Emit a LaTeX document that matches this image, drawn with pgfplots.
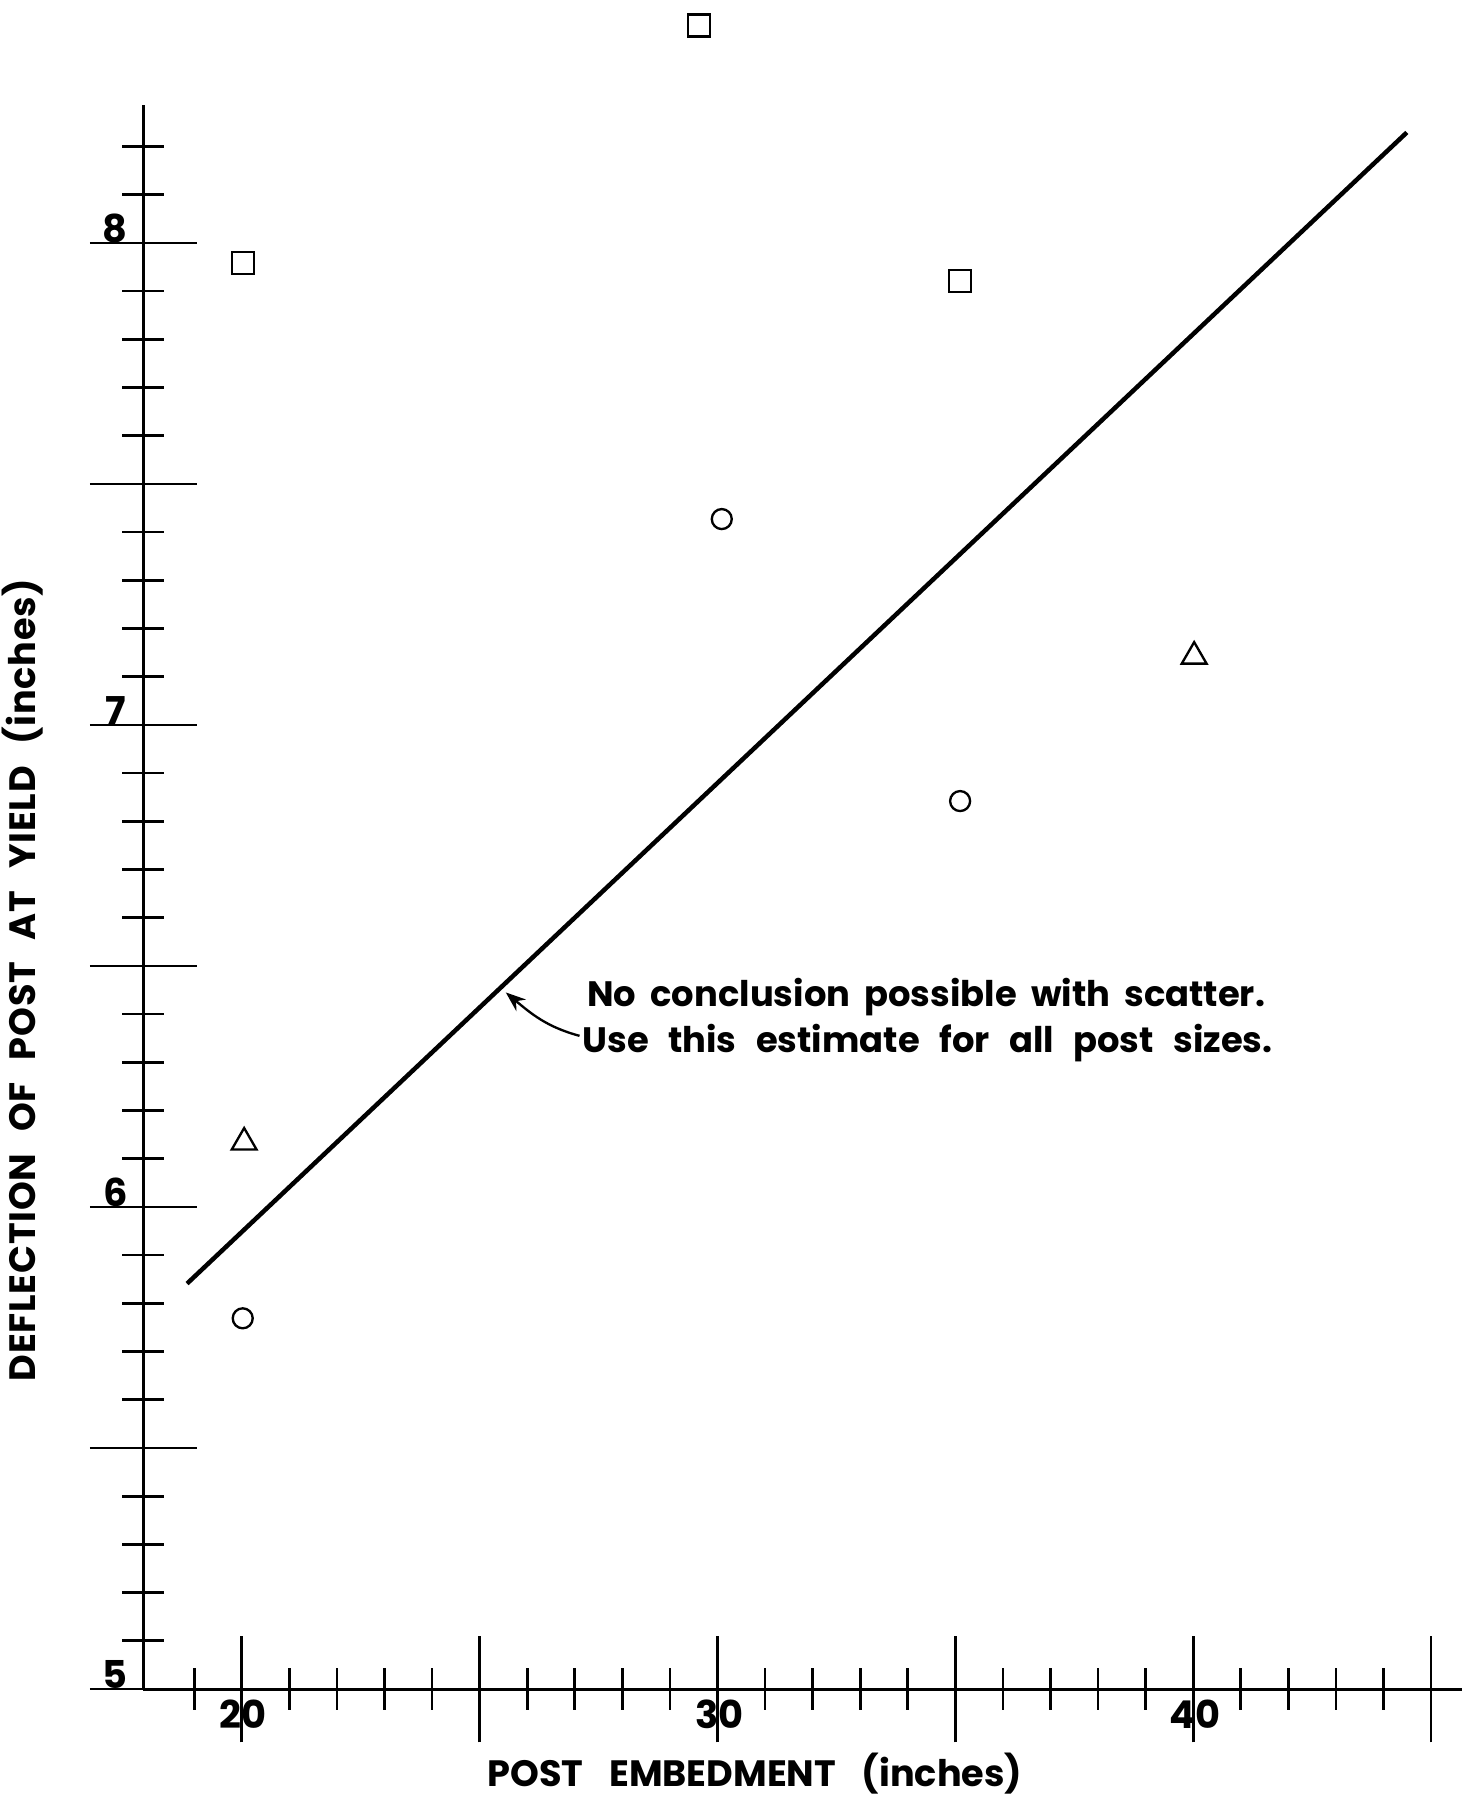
\documentclass[border=0pt]{standalone}
\usepackage{fontspec}
\setmainfont{Poppins}
\usepackage{pgfplots}
\pgfplotsset{compat=1.18}
\usetikzlibrary{arrows.meta}
\newfontfamily\lab{Poppins}[LetterSpace=0]
\newfontfamily\laby{Poppins}[LetterSpace=2]
\newfontfamily\note{Poppins}
\begin{document}
\begin{tikzpicture}
\useasboundingbox (-42.99pt,-32.1pt) rectangle (395.61pt,506.7pt);
\begin{axis}[
  scale only axis, width=395.61pt, height=475.2pt,
  at={(0pt,0pt)}, anchor=south west,
  xmin=17.93, xmax=45.65, ymin=5, ymax=8.286,
  enlargelimits=false, clip=false,
  axis lines=left, axis line style={-, line width=0.9pt},
  tick align=center, major tick length=32pt, minor tick length=12.5pt,
  tick style={black, line width=0.8pt},
  xtick={20,25,30,35,40,45}, xticklabels={20,,30,,40,},
  minor xtick={19,21,22,23,24,26,27,28,29,31,32,33,34,36,37,38,39,41,42,43,44},
  ytick={5,5.5,6,6.5,7,7.5,8}, yticklabels={5,,6,,7,,8},
  minor ytick={5.1,5.2,5.3,5.4,5.6,5.7,5.8,5.9,6.1,6.2,6.3,6.4,6.6,6.7,6.8,6.9,7.1,7.2,7.3,7.4,7.6,7.7,7.8,7.9,8.1,8.2},
  xticklabel style={font=\bfseries\fontsize{11.5}{11.5}\selectfont, anchor=center, xshift=0.5pt, yshift=8.4pt},
  yticklabel style={font=\bfseries\fontsize{11.5}{11.5}\selectfont, anchor=center, xshift=7.6pt, yshift=4.3pt},
  xlabel={\lab\bfseries POST\hspace{0.7em}EMBEDMENT\hspace{0.7em}(inches)},
  ylabel={\laby\bfseries DEFLECTION\hspace{0.6em}OF\hspace{0.6em}POST\hspace{0.6em}AT\hspace{0.6em}YIELD\hspace{0.6em}(inches)},
  xlabel style={font=\fontsize{11}{11}\selectfont, at={(axis description cs:0.4639,-0.0535)}, anchor=center},
  ylabel style={font=\fontsize{11}{11}\selectfont, at={(axis description cs:-0.0912,0.4477)}, anchor=center},
]
% fitted estimate line
\addplot[black, line width=1.35pt] coordinates {(18.85,5.841) (44.49,8.229)};
% squares
\addplot[only marks, mark=square, mark size=3.3pt, mark options={line width=0.7pt, black}] coordinates {(20.02,7.958) (29.61,8.451) (35.10,7.921)};
% circles
\addplot[only marks, mark=o, mark size=3pt, mark options={line width=0.7pt, black}] coordinates {(20.02,5.769) (30.09,7.427) (35.10,6.842)};
% triangles
\addplot[only marks, mark=triangle, mark size=4.3pt, mark options={line width=0.7pt, black}] coordinates {(20.05,6.134) (40.02,7.142)};
% annotation
\node[anchor=west, inner sep=0pt, font=\note\bfseries\fontsize{10.6}{11}\selectfont] at (axis cs:27.25,6.435) {No\hspace{0.4em}conclusion\hspace{0.4em}possible\hspace{0.4em}with\hspace{0.4em}scatter.};
\node[anchor=west, inner sep=0pt, font=\note\bfseries\fontsize{10.6}{11}\selectfont] at (axis cs:27.15,6.341) {Use\hspace{0.55em}this\hspace{0.55em}estimate\hspace{0.55em}for\hspace{0.55em}all\hspace{0.55em}post\hspace{0.55em}sizes.};
\draw[-{Stealth[length=6pt,width=4.5pt]}, line width=0.7pt] (axis cs:27.1,6.355) to[out=165, in=-40] (axis cs:25.55,6.445);
\end{axis}
\end{tikzpicture}
\end{document}
